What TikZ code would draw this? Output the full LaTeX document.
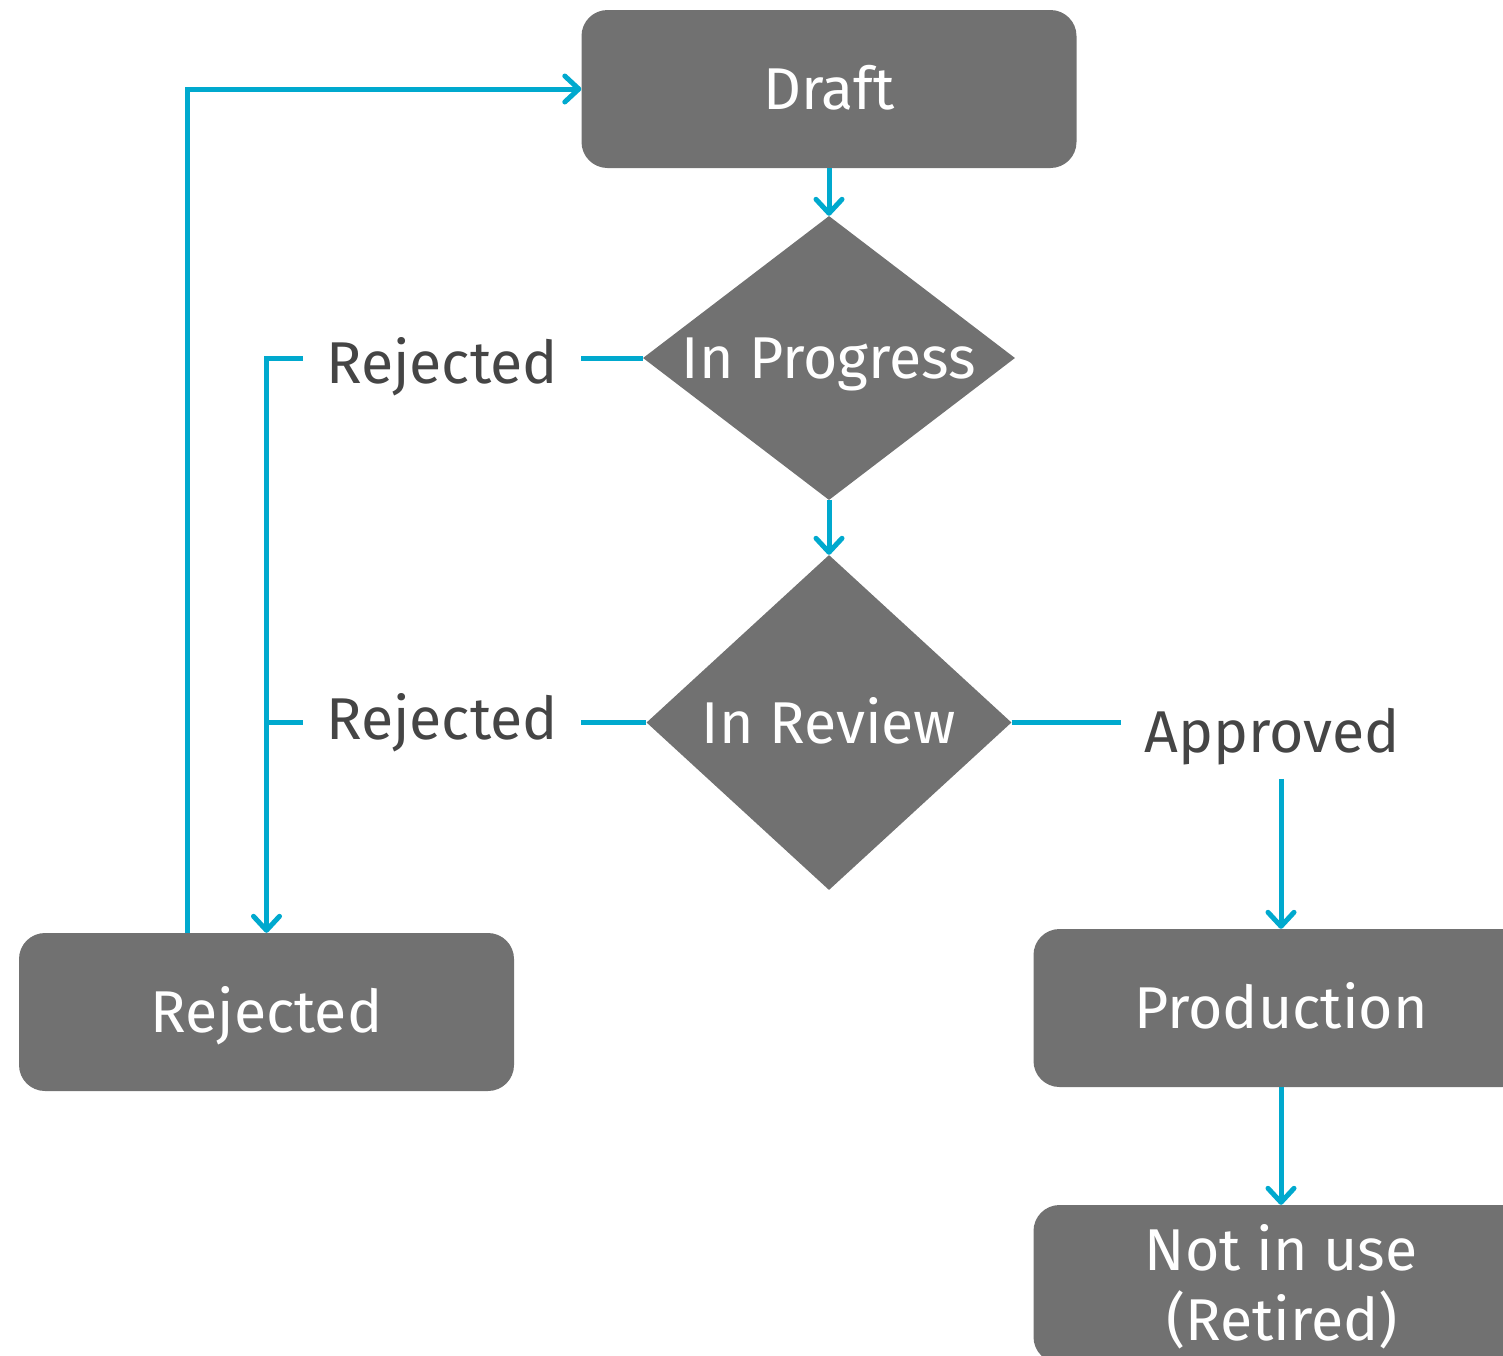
\documentclass[tikz,border=0pt]{standalone}
\usepackage{fontspec}
\setmainfont{Fira Sans}
\usetikzlibrary{shapes.geometric,arrows.meta,calc}
\definecolor{boxgray}{HTML}{717171}
\definecolor{flow}{HTML}{00A9CE}
\definecolor{labelgray}{HTML}{454545}
\begin{document}
\begin{tikzpicture}[x=1pt,y=-1pt,
  txt/.style={font=\fontsize{59}{70}\selectfont},
  box/.style={rectangle, rounded corners=26pt, fill=boxgray, text=white, minimum width=495pt, minimum height=158pt, inner sep=0pt, txt, text height=41pt, text depth=0pt},
  dec/.style={diamond, fill=boxgray, text=white, inner sep=0pt, txt, text height=41pt, text depth=0pt},
  lab/.style={txt, text=labelgray, inner xsep=23pt, inner ysep=14pt, anchor=base},
  flowline/.style={draw=flow, line width=5pt},
  flowarrow/.style={flowline, -{Straight Barb[length=14pt,width=26pt,line cap=round,line join=round]}},
]
\clip (0,0) rectangle (1503,1355);
\useasboundingbox (0,0) rectangle (1503,1355);

\node[box] (draft) at (829,89) {Draft};
\node[dec, minimum width=372pt, minimum height=284pt] (prog) at (829,358) {\makebox[0pt]{In Progress}};
\node[dec, minimum width=365pt, minimum height=335pt] (rev) at (829,722.5) {\makebox[0pt]{In Review}};
\node[box] (rej) at (266.5,1012) {Rejected};
\node[box] (prod) at (1281,1008) {Production};
\node[box] (ret) at (1281,1284) {};
\node[txt, text=white, anchor=base, inner sep=0pt] (ret1) at (1281,1270) {Not in use};
\node[txt, text=white, anchor=base, inner sep=0pt] (ret2) at (1282,1340) {(Retired)};

\node[lab] (lr1) at (442,383) {Rejected};
\node[lab] (lr2) at (442,739) {Rejected};
\node[lab] (la) at (1272,752) {Approved};

\draw[flowarrow] (draft) -- (prog);
\draw[flowarrow] (prog) -- (rev);
\draw[flowline] (prog.west) -- (prog.west -| lr1.east);
\draw[flowarrow] (prog.west -| lr1.west) -| (rej.north);
\draw[flowline] (rev.west) -- (rev.west -| lr2.east);
\draw[flowline] (rev.west -| lr2.west) -- (rev.west -| rej.north);
\draw[flowline] (rev.east) -- (rev.east -| la.west);
\draw[flowarrow] (la.south -| prod.north) -- (prod.north);
\draw[flowarrow] (prod) -- (ret);
\draw[flowarrow] ($(rej.north)+(-79.5,0)$) |- (draft.west);
\end{tikzpicture}
\end{document}
